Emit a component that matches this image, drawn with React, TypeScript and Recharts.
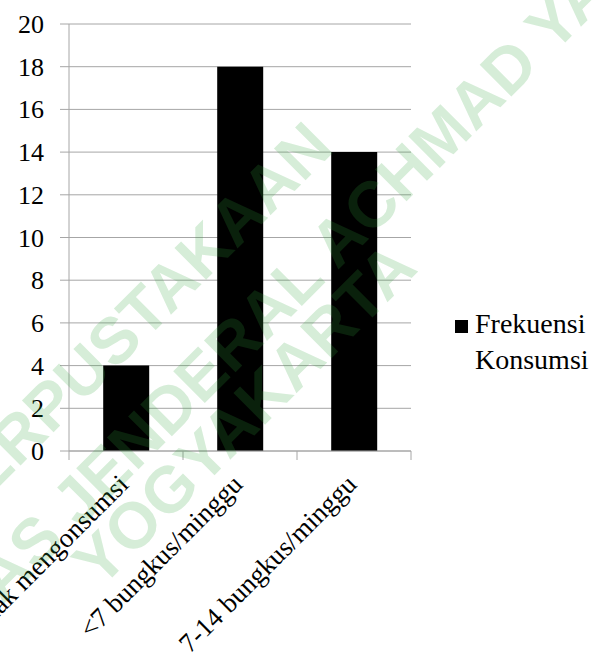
import React from 'react';
import { BarChart, Bar, XAxis, YAxis, CartesianGrid } from 'recharts';

const categories = ['Tidak mengonsumsi', '<7 bungkus/minggu', '7-14 bungkus/minggu'];
const frekuensi = [4, 18, 14];
const seriesName = 'Frekuensi Konsumsi';
const yTicks = [0, 2, 4, 6, 8, 10, 12, 14, 16, 18, 20];
const watermarkLines = ['PERPUSTAKAAN', 'UNIVERSITAS JENDERAL ACHMAD YANI', 'YOGYAKARTA'];

const data = categories.map((kategori, i) => ({ kategori, frekuensi: frekuensi[i] }));

const FONT = "'Liberation Serif', Tinos, 'Times New Roman', 'DejaVu Serif', serif";
const AXIS = '#a6a6a6';
const BAR = '#000';
const W = 597;
const H = 667;

// category labels rotated -45deg, plus the tick marks on the band boundaries
function CategoryTick(props: any) {
  const { x, y, payload, index, visibleTicksCount } = props;
  const half = payload.offset || 57;
  const last = index === visibleTicksCount - 1;
  const tx = x + 4;
  const ty = y + 35;
  return (
    <g>
      <line x1={x - half} x2={x - half} y1={y} y2={y + 9} stroke={AXIS} />
      {last && <line x1={x + half} x2={x + half} y1={y} y2={y + 9} stroke={AXIS} />}
      <text
        x={tx}
        y={ty}
        transform={`rotate(-45 ${tx} ${ty})`}
        textAnchor="end"
        fontFamily={FONT}
        fontSize={27}
        fill="#000"
      >
        {payload.value}
      </text>
    </g>
  );
}

function ValueTick(props: any) {
  const { x, y, payload } = props;
  return (
    <text x={x} y={y} dy={9} textAnchor="end" fontFamily={FONT} fontSize={26} fill="#000">
      {payload.value}
    </text>
  );
}

// library stamp drawn diagonally across the page
function Watermark() {
  const spots = [
    { x: 130, y: 324 },
    { x: 194, y: 382 },
    { x: 244, y: 414 },
  ];
  return (
    <svg width={W} height={H} style={{ position: 'absolute', left: 0, top: 0, pointerEvents: 'none' }}>
      {watermarkLines.map((t, i) => (
        <text
          key={t}
          x={spots[i].x}
          y={spots[i].y}
          transform={`rotate(-45 ${spots[i].x} ${spots[i].y})`}
          textAnchor="middle"
          dominantBaseline="central"
          fontFamily="'Liberation Sans', Arimo, Arial, sans-serif"
          fontWeight="bold"
          fontSize={65}
          fill="rgb(50,165,60)"
          fillOpacity={0.2}
        >
          {t}
        </text>
      ))}
    </svg>
  );
}

export default function App() {
  return (
    <div style={{ position: 'absolute', left: 0, top: 0, width: W, height: H, background: '#fff', fontFamily: FONT }}>
      <BarChart
        width={W}
        height={H}
        data={data}
        margin={{ top: 24, right: 186, left: 0, bottom: 0 }}
        barCategoryGap="30%"
      >
        <CartesianGrid vertical={false} stroke={AXIS} />
        <XAxis
          dataKey="kategori"
          height={216}
          interval={0}
          tickSize={0}
          tickMargin={0}
          tickLine={false}
          axisLine={{ stroke: AXIS }}
          tick={<CategoryTick />}
        />
        <YAxis
          domain={[0, 20]}
          ticks={yTicks}
          interval={0}
          width={69}
          tickSize={9}
          tickMargin={16}
          stroke={AXIS}
          tick={<ValueTick />}
        />
        <Bar dataKey="frekuensi" name={seriesName} fill={BAR} isAnimationActive={false} />
      </BarChart>
      {/* legend sits to the right of the plot, outside the chart offsets */}
      <div
        style={{
          position: 'absolute',
          left: 455,
          top: 306,
          display: 'flex',
          alignItems: 'flex-start',
          fontSize: 28,
          lineHeight: '36px',
          color: '#000',
        }}
      >
        <span style={{ width: 13, height: 13, background: BAR, marginTop: 14, marginRight: 7, flexShrink: 0 }} />
        <div style={{ width: 130 }}>{seriesName}</div>
      </div>
      <Watermark />
    </div>
  );
}
